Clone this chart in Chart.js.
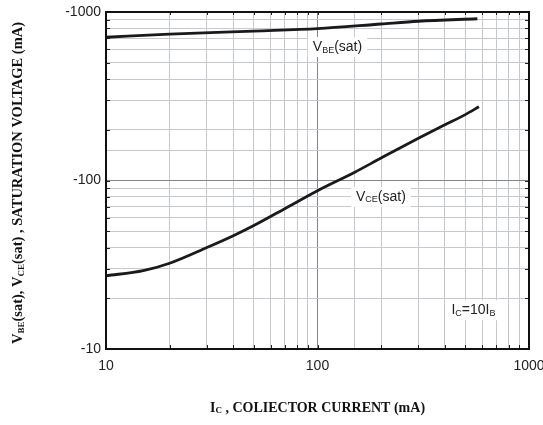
<!DOCTYPE html>
<html><head><meta charset="utf-8">
<script src="https://cdn.jsdelivr.net/npm/chart.js@4"></script>
<style>html,body{margin:0;padding:0;background:#fff;}#wrap{position:relative;width:543px;height:425px;}</style>
</head><body><div id="wrap"><canvas id="c" width="543" height="425"></canvas></div>
<script>
// Collector current (mA) and saturation voltage magnitudes (axis printed negative)
const vbeCurrent = [10, 20, 50, 100, 200, 300, 570];
const vbeSat = [708, 740, 771, 796, 849, 881, 912];
const vceCurrent = [10, 15, 20, 30, 40, 50, 70, 100, 150, 200, 300, 400, 500, 580];
const vceSat = [27.2, 29.2, 32.3, 40, 47, 54, 68, 87, 112, 136, 178, 214, 246, 274];
const xTickValues = [10, 100, 1000];
const xTickLabels = ['10', '100', '1000'];
const yTickValues = [10, 100, 1000];
const yTickLabels = ['-10', '-100', '-1000'];

const GRID = '#c6cace', MAJOR = '#858585';
const pts = (xs, ys) => xs.map((x, i) => ({x, y: ys[i]}));

function richText(ctx, parts, x, y, size, bold, family) {
  let cx = x;
  for (const [t, sub] of parts) {
    ctx.font = (bold ? 'bold ' : '') + (sub ? Math.round(size * 0.62) : size) + 'px ' + family;
    ctx.fillText(t, cx, sub ? y + size * 0.22 : y);
    cx += ctx.measureText(t).width;
  }
  return cx - x;
}
function richWidth(ctx, parts, size, bold, family) {
  let w = 0;
  for (const [t, sub] of parts) {
    ctx.font = (bold ? 'bold ' : '') + (sub ? Math.round(size * 0.62) : size) + 'px ' + family;
    w += ctx.measureText(t).width;
  }
  return w;
}

const decor = {
  id: 'decor',
  afterDatasetsDraw(chart) {
    const {ctx, chartArea: a, scales: {x, y}} = chart;
    ctx.save();
    ctx.strokeStyle = '#222'; ctx.lineWidth = 1;
    const minor = [];
    for (let d = 10; d < 1000; d *= 10) for (let m = 1; m <= 9; m++) minor.push(d * m);
    minor.push(1000);
    ctx.beginPath();
    for (const v of minor) {
      const px = Math.round(x.getPixelForValue(v)) + 0.5;
      ctx.moveTo(px, a.bottom); ctx.lineTo(px, a.bottom - 4);
      ctx.moveTo(px, a.top); ctx.lineTo(px, a.top + 3);
      const py = Math.round(y.getPixelForValue(v)) + 0.5;
      ctx.moveTo(a.left, py); ctx.lineTo(a.left + 4, py);
      ctx.moveTo(a.right, py); ctx.lineTo(a.right - 4, py);
    }
    ctx.stroke();
    ctx.strokeStyle = '#111'; ctx.lineWidth = 2;
    ctx.strokeRect(a.left, a.top, a.right - a.left, a.bottom - a.top);

    const fam = '"Liberation Sans", Arial, sans-serif';
    const labels = [
      {x: 95, y: 620, parts: [['V', 0], ['BE', 1], ['(sat)', 0]]},
      {x: 152, y: 80, parts: [['V', 0], ['CE', 1], ['(sat)', 0]]},
      {x: 430, y: 17, parts: [['I', 0], ['C', 1], ['=10I', 0], ['B', 1]]}
    ];
    ctx.textBaseline = 'middle'; ctx.textAlign = 'left';
    for (const l of labels) {
      const px = x.getPixelForValue(l.x), py = y.getPixelForValue(l.y);
      const w = richWidth(ctx, l.parts, 14, false, fam);
      ctx.fillStyle = '#fff';
      ctx.fillRect(px - 5, py - 10, w + 10, 20);
      ctx.fillStyle = '#222';
      richText(ctx, l.parts, px, py, 14, false, fam);
    }

    const serif = '"Liberation Serif", "Times New Roman", serif';
    ctx.fillStyle = '#111';
    const xt = [['I', 0], ['C', 1], [' , COLIECTOR CURRENT (mA)', 0]];
    const xw = richWidth(ctx, xt, 14, true, serif);
    richText(ctx, xt, (a.left + a.right) / 2 - xw / 2, 408, 14, true, serif);

    const yt = [['V', 0], ['BE', 1], ['(sat), V', 0], ['CE', 1], ['(sat) , SATURATION VOLTAGE (mA)', 0]];
    const yw = richWidth(ctx, yt, 14.5, true, serif);
    ctx.translate(18, 183);
    ctx.rotate(-Math.PI / 2);
    richText(ctx, yt, -yw / 2, 0, 14.5, true, serif);
    ctx.restore();
  }
};

new Chart(document.getElementById('c'), {
  type: 'scatter',
  data: {
    datasets: [
      {label: 'VBE(sat)', data: pts(vbeCurrent, vbeSat)},
      {label: 'VCE(sat)', data: pts(vceCurrent, vceSat)}
    ]
  },
  options: {
    responsive: false, animation: false,
    showLine: true,
    elements: {
      point: {radius: 0},
      line: {borderColor: '#1a1a1a', borderWidth: 2.8, cubicInterpolationMode: 'monotone'}
    },
    layout: {padding: {top: 12, right: 14, bottom: 46, left: 0}},
    plugins: {legend: {display: false}, tooltip: {enabled: false}},
    scales: {
      x: {
        type: 'logarithmic', min: 10, max: 1000,
        afterFit: s => { s.height = 30; s.paddingRight = 0; s.paddingLeft = 0; },
        border: {display: false},
        grid: {drawTicks: false, color: c => c.tick && c.tick.value === 100 ? MAJOR : GRID, lineWidth: 1},
        ticks: {
          autoSkip: false, maxRotation: 0, padding: 9, color: '#222',
          font: {family: '"Liberation Sans", Arial, sans-serif', size: 14},
          callback: v => { const i = xTickValues.indexOf(v); return i >= 0 ? xTickLabels[i] : ''; }
        }
      },
      y: {
        type: 'logarithmic', min: 10, max: 1000,
        afterFit: s => { s.width = 106; s.paddingTop = 0; s.paddingBottom = 0; },
        border: {display: false},
        grid: {drawTicks: false, color: c => c.tick && c.tick.value === 100 ? MAJOR : GRID, lineWidth: 1},
        ticks: {
          autoSkip: false, padding: 5, color: '#222',
          font: {family: '"Liberation Sans", Arial, sans-serif', size: 14},
          callback: v => { const i = yTickValues.indexOf(v); return i >= 0 ? yTickLabels[i] : ''; }
        }
      }
    }
  },
  plugins: [decor]
});
</script>
</body></html>
